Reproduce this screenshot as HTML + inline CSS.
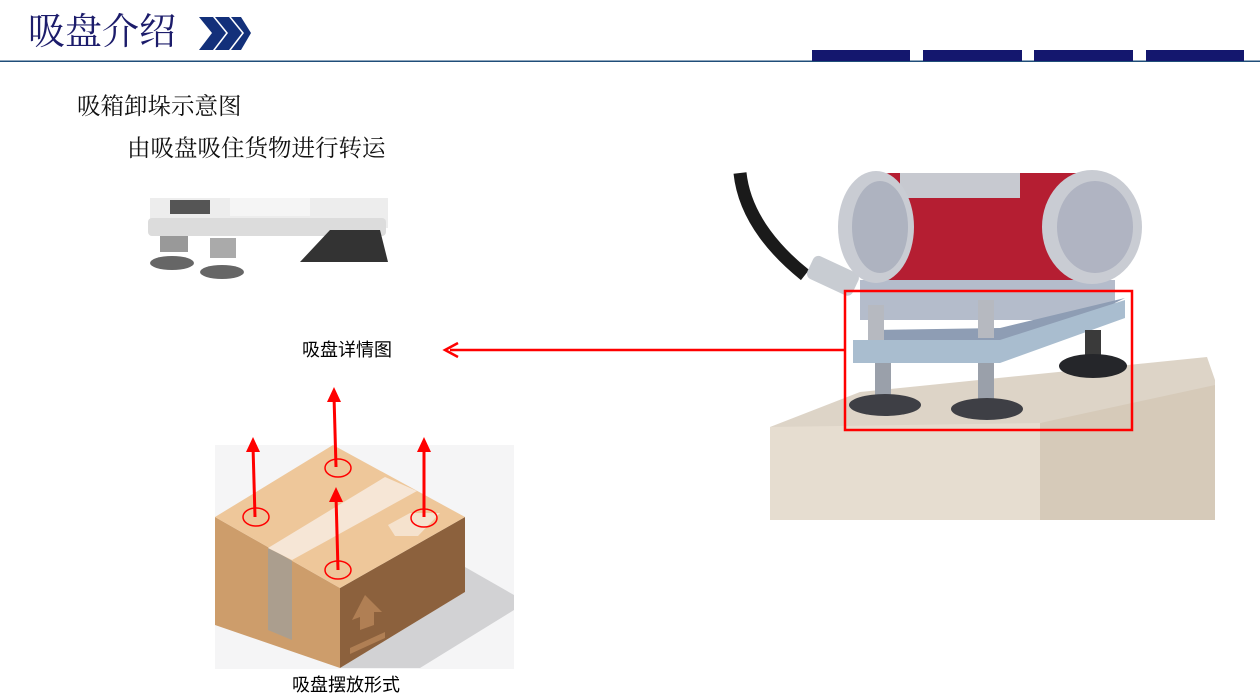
<!DOCTYPE html>
<html><head><meta charset="utf-8"><style>
body{margin:0;width:1260px;height:700px;background:#fff;overflow:hidden;position:relative;font-family:"Liberation Serif","Noto Serif CJK SC","Noto Sans CJK SC",serif}
.t{position:absolute;white-space:nowrap}
</style></head><body>
<div class="t" style="left:28px;top:11px;font-size:37px;color:#1c1c6b;line-height:44px">吸盘介绍</div>
<div class="t" style="left:77px;top:92px;font-size:23.5px;color:#111;line-height:30px">吸箱卸垛示意图</div>
<div class="t" style="left:127px;top:134px;font-size:23.5px;color:#111;line-height:30px">由吸盘吸住货物进行转运</div>
<div class="t" style="left:302px;top:338px;font-size:18px;color:#000;font-family:'Liberation Sans','Noto Sans CJK SC',sans-serif;line-height:24px">吸盘详情图</div>
<div class="t" style="left:292px;top:673px;font-size:18px;color:#000;font-family:'Liberation Sans','Noto Sans CJK SC',sans-serif;line-height:24px">吸盘摆放形式</div>
<svg width="1260" height="700" style="position:absolute;left:0;top:0">
<polygon points="199,17 213,17 226,33 213,50 199,50 212,33" fill="#13307a"/>
<polygon points="215,17 229,17 242,33 229,50 215,50 228,33" fill="#13307a"/>
<polygon points="231,17 241,17 251,33 241,50 231,50 244,33" fill="#13307a"/>
<rect x="0" y="60.5" width="1260" height="1.5" fill="#1f4e79"/>
<rect x="812" y="50" width="98" height="11" fill="#14176e"/>
<rect x="923" y="50" width="99" height="11" fill="#14176e"/>
<rect x="1034" y="50" width="99" height="11" fill="#14176e"/>
<rect x="1146" y="50" width="98" height="11" fill="#14176e"/>
<!-- small grayscale photo -->
<rect x="150" y="198" width="238" height="30" fill="#ededed"/>
<rect x="148" y="218" width="238" height="18" rx="4" fill="#dcdcdc"/>
<rect x="170" y="200" width="40" height="14" fill="#555"/>
<rect x="230" y="198" width="80" height="18" fill="#f5f5f5"/>
<rect x="160" y="236" width="28" height="16" fill="#999"/>
<ellipse cx="172" cy="263" rx="22" ry="7" fill="#666"/>
<rect x="210" y="238" width="26" height="20" fill="#aaa"/>
<ellipse cx="222" cy="272" rx="22" ry="7" fill="#666"/>
<polygon points="300,262 330,230 380,230 388,262" fill="#333"/>
<!-- box illustration -->
<rect x="215" y="445" width="299" height="224" fill="#f5f5f6"/>
<polygon points="465,567 514,595 514,610 420,668 340,668 465,592" fill="#d2d2d4"/>
<polygon points="215,517 340,588 340,668 215,625" fill="#cd9d6b"/>
<polygon points="268,548 292,560 292,640 268,630" fill="#ab9e8e"/>
<polygon points="340,588 465,517 465,592 340,668" fill="#8c613d"/>
<polygon points="333,445 465,517 340,588 215,517" fill="#eec79a"/>
<polygon points="385,477 417,491 292,560 268,548" fill="#f6e6d6"/>
<polygon points="388,525 410,513 440,513 418,536 395,536" fill="#f5e2cd"/>
<polygon points="365,595 382,612 374,612 374,625 360,630 360,617 352,620" fill="#b07f54"/>
<polygon points="350,648 385,632 385,638 350,654" fill="#b07f54"/>
<g stroke="#f00" stroke-width="3" fill="none">
<line x1="255" y1="517" x2="253" y2="446"/>
<line x1="338" y1="570" x2="336" y2="496"/>
<line x1="336" y1="467" x2="334" y2="396"/>
<line x1="424" y1="517" x2="424" y2="446"/>
</g>
<g fill="#f00">
<polygon points="253,437 246,452 260,452"/>
<polygon points="336,487 329,502 343,502"/>
<polygon points="334,387 327,402 341,402"/>
<polygon points="424,437 417,452 431,452"/>
</g>
<g stroke="#f00" stroke-width="1.5" fill="none">
<ellipse cx="256" cy="517" rx="13" ry="9"/>
<ellipse cx="338" cy="570" rx="13" ry="9"/>
<ellipse cx="338" cy="468" rx="13" ry="9"/>
<ellipse cx="424" cy="518" rx="13" ry="9"/>
</g>
<!-- robot photo -->
<polygon points="770,427 860,392 1207,357 1215,380 1215,520 770,520" fill="#ddd4c7"/>
<polygon points="770,427 1040,423 1215,390 1215,520 770,520" fill="#e6ddd0"/>
<polygon points="1040,423 1215,385 1215,520 1040,520" fill="#d6cab9"/>
<path d="M740,173 C745,220 780,255 805,275" stroke="#1a1a1a" stroke-width="13" fill="none"/>
<rect x="808" y="262" width="50" height="25" rx="6" fill="#c8ccd2" transform="rotate(25 830 275)"/>
<rect x="860" y="280" width="255" height="40" fill="#b4bccb"/>
<rect x="870" y="173" width="230" height="107" rx="20" fill="#b51e32"/>
<rect x="900" y="173" width="120" height="25" fill="#c7c9d0"/>
<ellipse cx="876" cy="227" rx="38" ry="56" fill="#c9ccd3"/>
<ellipse cx="880" cy="227" rx="28" ry="46" fill="#aeb3c0"/>
<ellipse cx="1092" cy="227" rx="50" ry="57" fill="#c9ccd3"/>
<ellipse cx="1095" cy="227" rx="38" ry="46" fill="#b0b4c2"/>
<polygon points="870,330 1000,328 1125,298 1040,340 870,340" fill="#8e9db4"/>
<polygon points="853,340 1000,340 1125,300 1125,318 1000,363 853,363" fill="#a9bdcf"/>
<rect x="868" y="305" width="16" height="35" fill="#b6b9c0"/>
<rect x="978" y="300" width="16" height="38" fill="#b6b9c0"/>
<rect x="875" y="363" width="16" height="35" fill="#9aa0aa"/>
<rect x="978" y="363" width="16" height="40" fill="#9aa0aa"/>
<rect x="1085" y="330" width="16" height="30" fill="#3a3a3a"/>
<ellipse cx="885" cy="405" rx="36" ry="11" fill="#3e3f45"/>
<ellipse cx="987" cy="409" rx="36" ry="11" fill="#3e3f45"/>
<ellipse cx="1093" cy="366" rx="34" ry="12" fill="#25262a"/>
<rect x="845" y="291" width="287" height="139" fill="none" stroke="#f00" stroke-width="2.5"/>
<line x1="844" y1="350" x2="450" y2="350" stroke="#f00" stroke-width="2.5"/>
<polyline points="458,343 445,350 458,357" fill="none" stroke="#f00" stroke-width="2.5"/>
</svg>
</body></html>
